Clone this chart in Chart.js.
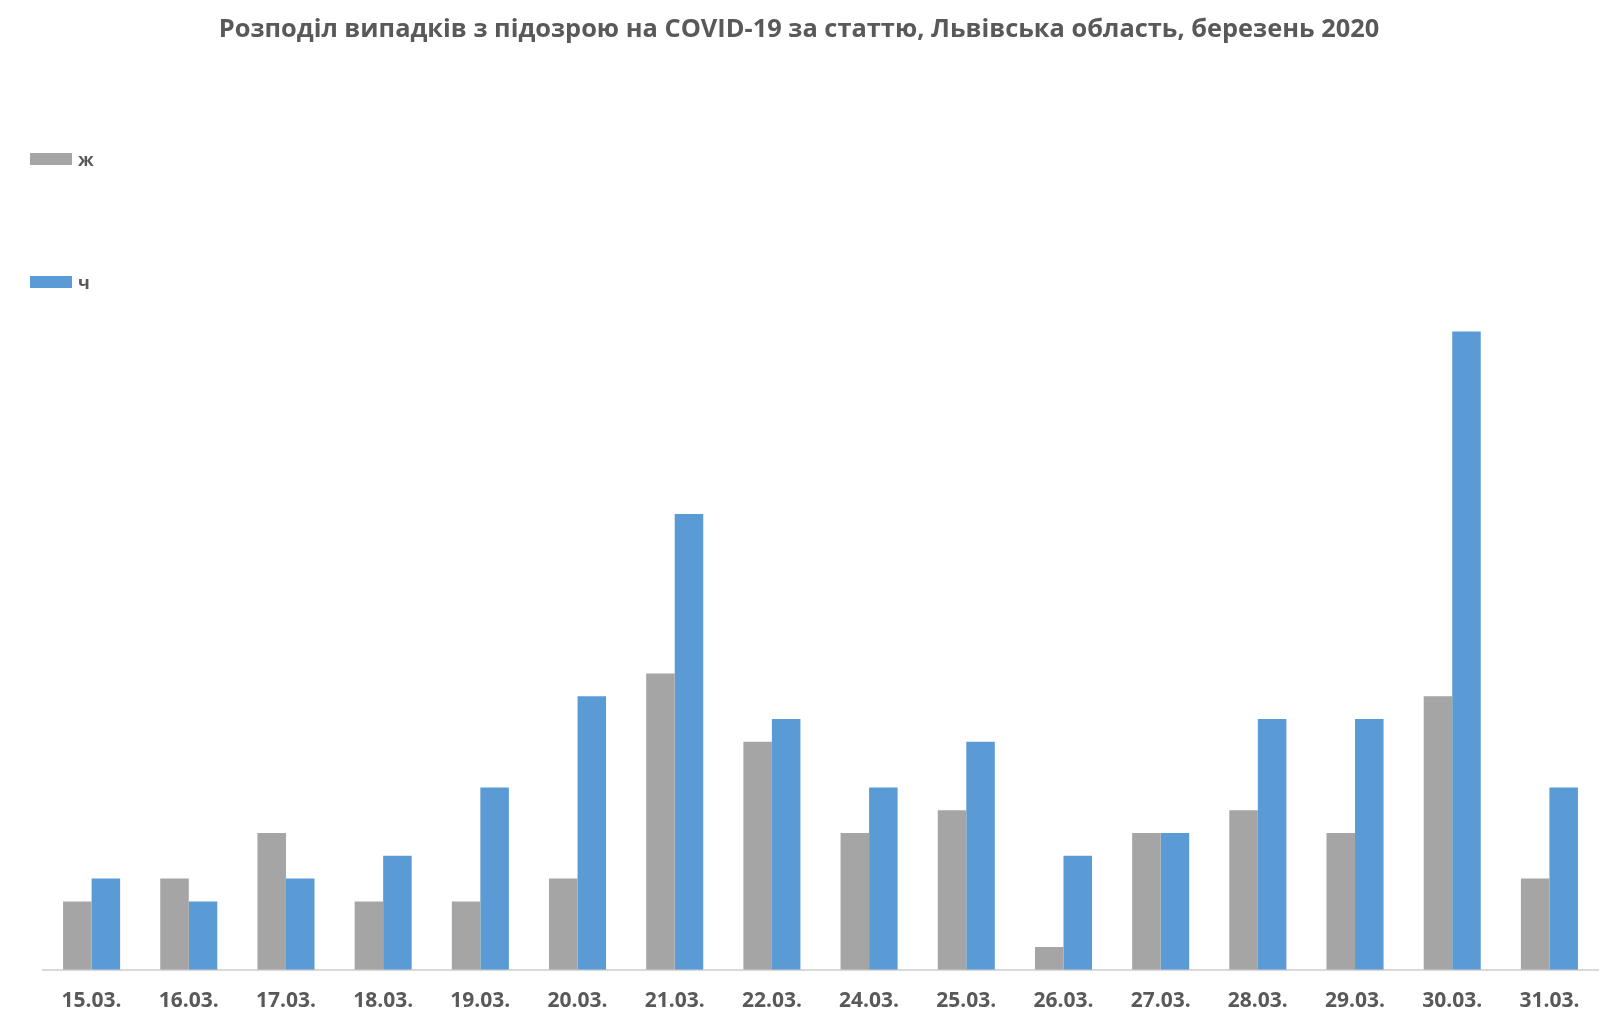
<!DOCTYPE html>
<html>
<head>
<meta charset="utf-8">
<script src="https://cdn.jsdelivr.net/npm/chart.js@4/dist/chart.umd.min.js"></script>
<style>
    body { margin: 0; background: #fff; }
    #wrap { position: relative; width: 1600px; height: 1035px; }
    #legend { position: absolute; left: 30px; top: 0; font-family: "Open Sans", sans-serif; font-weight: bold; font-size: 18px; color: #595959; }
    .legend-item { position: absolute; left: 0; display: flex; align-items: center; white-space: nowrap; }
    .legend-box { width: 42px; height: 12px; margin-right: 6px; }
</style>
</head>
<body>
<div id="wrap">
    <canvas id="chart"></canvas>
    <div id="legend"></div>
</div>
<script>
const titleText = "Розподіл випадків з підозрою на COVID-19 за статтю, Львівська область, березень 2020";
const dates = ["15.03.", "16.03.", "17.03.", "18.03.", "19.03.", "20.03.", "21.03.", "22.03.",
               "24.03.", "25.03.", "26.03.", "27.03.", "28.03.", "29.03.", "30.03.", "31.03."];
const female = [3, 4, 6, 3, 3, 4, 13, 10, 6, 7, 1, 6, 7, 6, 12, 4];
const male = [4, 3, 4, 5, 8, 12, 20, 11, 8, 10, 5, 6, 11, 11, 28, 8];
const seriesNames = ["ж", "ч"];

const GREY = "#A5A5A5";
const BLUE = "#5B9BD5";
const TEXT = "#595959";

const datasets = [
    { label: seriesNames[0], data: female, backgroundColor: GREY },
    { label: seriesNames[1], data: male, backgroundColor: BLUE }
];

const ctx = document.getElementById("chart").getContext("2d");

new Chart(ctx, {
    type: "bar",
    data: { labels: dates, datasets },
    options: {
        responsive: true,
        maintainAspectRatio: false,
        animation: false,
        layout: { padding: { left: 0, right: 2, top: 0, bottom: 10 } },
        datasets: { bar: { barPercentage: 1.0, categoryPercentage: 0.587 } },
        plugins: {
            legend: { display: false },
            tooltip: { enabled: false },
            title: {
                display: true,
                text: titleText,
                color: TEXT,
                font: { family: "Open Sans", size: 25.4, weight: "bold" },
                padding: { top: 15, bottom: 12.5 }
            }
        },
        scales: {
            x: {
                grid: { display: false },
                border: { display: true, color: "#D9D9D9", width: 2 },
                ticks: {
                    color: TEXT,
                    padding: 11,
                    font: { family: "Open Sans", size: 21, weight: "bold" },
                    maxRotation: 0,
                    autoSkip: false
                }
            },
            y: {
                // invisible axis, only keeps the left margin so the title stays centred
                min: 0,
                max: 40,
                grid: { display: false },
                border: { display: false },
                ticks: { display: false },
                afterFit(scale) { scale.width = 43; }
            }
        }
    }
});

// legend stacked on the left, far apart like the original
const legend = document.getElementById("legend");
const legendY = [159, 282];
datasets.forEach((ds, i) => {
    const item = document.createElement("div");
    item.className = "legend-item";
    item.style.top = (legendY[i] - 12) + "px";
    item.style.height = "24px";
    item.innerHTML = `<span class="legend-box" style="background:${ds.backgroundColor}"></span><span>${ds.label}</span>`;
    legend.appendChild(item);
});
</script>
</body>
</html>
